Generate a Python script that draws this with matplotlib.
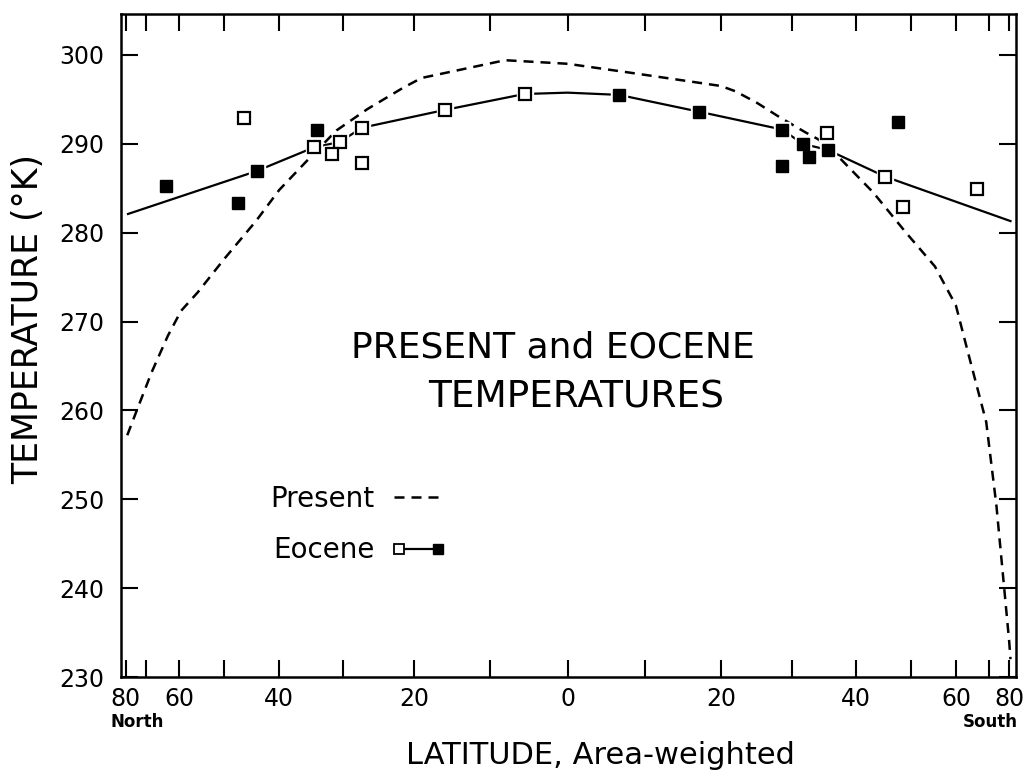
import numpy as np
import matplotlib.pyplot as plt
from matplotlib.lines import Line2D
from matplotlib.legend_handler import HandlerBase

plt.rcParams['font.family'] = ['DejaVu Sans']

# Present-day zonal mean temperature (dashed curve), latitude with North negative
present_lat = [-79, -73.5, -68, -63, -59.5, -55.5, -50, -44, -40, -35.5, -31, -26.5,
               -21.5, -19, -8, 0, 8, 20, 22, 25, 28, 32, 34, 37.5, 43, 49, 55, 60,
               63, 69, 73, 76.5, 80, 81]
present_T = [257.2, 260.2, 264.3, 268.4, 271.2, 273.3, 277.0, 281.3, 284.8, 288.1,
             291.5, 293.9, 296.3, 297.4, 299.4, 299.0, 298.0, 296.5, 295.9, 294.6,
             293.1, 291.3, 290.5, 288.3, 284.5, 280.0, 276.2, 271.8, 266.9, 258.7,
             249.3, 240.7, 234.0, 232.0]

# Eocene fitted curve (solid line)
eocene_lat = [-78.5, -44, -34.4, -30.5, -27.3, -15.9, -5.5, 0, 6.6, 17.1, 28.6,
              31.6, 35.5, 45.1, 81]
eocene_T = [282.1, 286.9, 289.6, 290.2, 291.8, 293.8, 295.6, 295.75, 295.5, 293.6,
            291.6, 290.0, 289.3, 286.3, 281.3]

# Eocene data points
open_lat = [-46.1, -34.4, -30.5, -31.6, -27.3, -27.3, -15.9, -5.5, 35.3, 45.1, 48.5, 65.9]
open_T = [292.9, 289.6, 290.2, 288.8, 291.8, 287.8, 293.8, 295.6, 291.2, 286.3, 282.9, 284.9]
filled_lat = [-63.4, -47.3, -43.9, -34.0, 6.6, 17.1, 28.6, 28.5, 31.6, 32.6, 35.5, 47.5]
filled_T = [285.3, 283.3, 286.9, 291.5, 295.5, 293.6, 291.6, 287.5, 290.0, 288.5, 289.3, 292.4]

lat_ticks = np.arange(-80, 81, 10)
temp_ticks = np.arange(230, 301, 10)


# area-weighted latitude axis: position goes with sin(latitude)
def fwd(x):
    return np.sin(np.radians(x))


def inv(s):
    return np.degrees(np.arcsin(np.clip(s, -1, 1)))


class EoceneHandler(HandlerBase):
    def create_artists(self, legend, orig_handle, xdescent, ydescent, width,
                       height, fontsize, trans):
        y = height / 2 - ydescent
        x0, x1 = -xdescent + 4, -xdescent + width - 2
        line = Line2D([x0, x1], [y, y], color='k', lw=1.6)
        a = Line2D([x0], [y], marker='s', ms=6.5, mfc='white', mec='k', mew=1.3, ls='none')
        b = Line2D([x1], [y], marker='s', ms=6.5, mfc='k', mec='k', ls='none')
        for art in (line, a, b):
            art.set_transform(trans)
        return [line, a, b]


fig = plt.figure(figsize=(10.3, 7.77), dpi=100)
ax = fig.add_axes([121 / 1030, 1 - 677 / 777, (1016 - 121) / 1030, (677 - 14) / 777])
ax.set_xscale('function', functions=(fwd, inv))
ax.set_xlim(-84.6, 90)
ax.set_ylim(230, 304.6)

dash = (0, (4.0, 2.8))
ax.plot(present_lat, present_T, color='k', lw=1.8, ls=dash, zorder=2)
ax.plot(eocene_lat, eocene_T, color='k', lw=1.6, zorder=2)
# white halo so the lines stop short of the squares
ax.plot(open_lat + filled_lat, open_T + filled_T, 's', ms=11, mfc='white',
        mec='white', ls='none', zorder=3)
ax.plot(open_lat, open_T, 's', ms=8, mfc='white', mec='k', mew=1.6, ls='none', zorder=4)
ax.plot(filled_lat, filled_T, 's', ms=8, mfc='k', mec='k', ls='none', zorder=4)

ax.set_xticks(lat_ticks)
ax.set_xticklabels([str(abs(t)) if t % 20 == 0 else '' for t in lat_ticks])
ax.xaxis.set_minor_locator(plt.NullLocator())
ax.set_yticks(temp_ticks)
ax.tick_params(direction='in', length=12, width=1.5, top=True, right=True,
               labelsize=17)
ax.tick_params(axis='x', pad=7)
ax.tick_params(axis='y', pad=12)
for sp in ax.spines.values():
    sp.set_linewidth(1.8)

fig.text(0.537, 0.553, 'PRESENT and EOCENE', fontsize=26, ha='center', va='center')
fig.text(0.559, 0.489, 'TEMPERATURES', fontsize=27, ha='center', va='center')

fig.text(0.133, 0.071, 'North', fontsize=12, fontweight='bold', ha='center', va='center')
fig.text(0.961, 0.071, 'South', fontsize=12, fontweight='bold', ha='center', va='center')
fig.text(0.5825, 0.028, 'LATITUDE, Area-weighted', fontsize=22, ha='center', va='center')
fig.text(0.027, 0.59, 'TEMPERATURE (°K)', fontsize=25, rotation=90,
         ha='center', va='center')

h_present = Line2D([], [], color='k', lw=1.8, ls=dash)
h_eocene = Line2D([], [])
ax.legend([h_present, h_eocene], ['Present', 'Eocene'],
          handler_map={h_eocene: EoceneHandler()},
          loc='upper left', bbox_to_anchor=(0.1665, 0.29), frameon=False,
          markerfirst=False, fontsize=20, handlelength=1.7, handletextpad=0.7,
          borderpad=0, borderaxespad=0, labelspacing=0.85)

fig.savefig('out.png', dpi=100)
